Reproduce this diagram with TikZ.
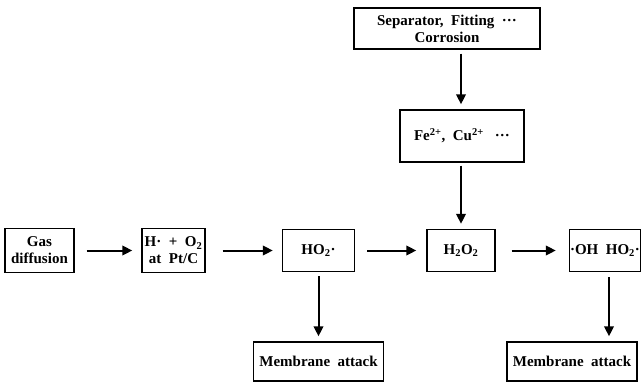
\documentclass[tikz,border=0pt]{standalone}
\usepackage{fontspec}
\setmainfont{Liberation Serif}
\usetikzlibrary{arrows.meta}
\tikzset{
  box/.style={draw, line width=1.4pt, inner sep=0pt, align=center, font=\fontsize{15}{17}\selectfont\bfseries},
  arr/.style={line width=2pt, -{Triangle[length=10pt,width=9.5pt]}}
}
\newcommand{\sbs}[1]{\textsubscript{#1}}
\newcommand{\sps}[1]{\textsuperscript{#1}}
\begin{document}
\begin{tikzpicture}[x=1pt,y=-1pt]
\useasboundingbox (0,0) rectangle (642,383);
\node[box, minimum width=69pt, minimum height=44pt] (gas) at (39.5,250.5) {Gas\\diffusion};
\node[box, minimum width=63pt, minimum height=44pt] (hox) at (173.5,250.5) {H·\ \ +\ \ O\sbs{2}\\at\ \ Pt/C};
\node[box, minimum width=72pt, minimum height=42pt] (ho2) at (318.5,250.5) {HO\sbs{2}·};
\node[box, minimum width=68pt, minimum height=42pt] (h2o2) at (461,250.5) {H\sbs{2}O\sbs{2}};
\node[box, minimum width=71pt, minimum height=42pt] (oh) at (605,250.5) {·OH\ \ HO\sbs{2}·};
\node[box, minimum width=186pt, minimum height=41pt] (sep) at (447,28.5) {Separator,\ \ Fitting\ \ ···\\Corrosion};
\node[box, minimum width=124pt, minimum height=52pt] (fe) at (462,136) {Fe\sps{2+},\ \ Cu\sps{2+}\ \ \ ···};
\node[box, minimum width=130pt, minimum height=39pt] (mem1) at (318.5,361.5) {Membrane\ \ attack};
\node[box, minimum width=130pt, minimum height=39pt] (mem2) at (572,361.5) {Membrane\ \ attack};
\draw[arr, shorten <=12pt, shorten >=9pt] (gas) -- (hox);
\draw[arr, shorten <=17pt, shorten >=9pt] (hox) -- (ho2);
\draw[arr, shorten <=12pt, shorten >=10pt] (ho2) -- (h2o2);
\draw[arr, shorten <=16pt, shorten >=13pt] (h2o2) -- (oh);
\draw[arr, shorten <=4pt, shorten >=5pt] ([xshift=-1pt]fe.north |- sep.south) -- ([xshift=-1pt]fe.north);
\draw[arr, shorten <=3pt, shorten >=5pt] (fe.south -| h2o2.north) -- (h2o2.north);
\draw[arr, shorten <=4pt, shorten >=5pt] (ho2.south) -- (mem1.north);
\draw[arr, shorten <=5pt, shorten >=5pt] ([xshift=4pt]oh.south) -- ([xshift=4pt]oh.south |- mem2.north);
\end{tikzpicture}
\end{document}
